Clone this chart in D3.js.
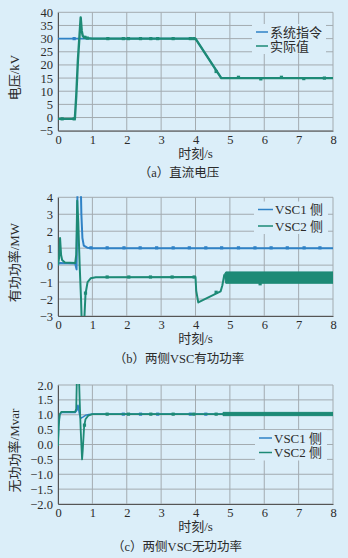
<!DOCTYPE html>
<html>
<head>
<meta charset="utf-8">
<script src="https://cdn.jsdelivr.net/npm/d3@7"></script>
<style>
  html, body { margin: 0; padding: 0; background: #dbeef9; }
  svg { display: block; }
  text { font-family: "Liberation Serif", "Noto Sans CJK SC", serif; fill: #2b2b2b; }
</style>
</head>
<body>
<div id="chart-area"></div>
<script>
// ---- data ----
var timeTicks = [0, 1, 2, 3, 4, 5, 6, 7, 8];

// (a) DC voltage
var aTicks = [-5, 0, 5, 10, 15, 20, 25, 30, 35, 40];
var aCmdT = [0, 4.0, 4.75, 8];
var aCmdV = [30, 30, 15, 15];
var aActT = [0, 0.49, 0.53, 0.58, 0.62, 0.66, 0.69, 0.72, 0.76, 0.85, 1.0, 4.0, 4.75, 8];
var aActV = [-0.5, -0.5, 8, 22, 30, 38, 33, 31, 30.5, 30.2, 30, 30, 15, 15];
var aCmdMarks = [[0.47, 30]];
var aActMarks = [[0.12, -0.5], [0.47, -0.5], [0.78, 30.5], [0.85, 30.2], [1.45, 30], [1.9, 30], [2.05, 30],
  [2.4, 30], [2.7, 30], [2.9, 30], [3.35, 30], [3.85, 30], [3.95, 30], [4.6, 17.5], [5.25, 15.3],
  [5.9, 14.7], [6.5, 15.3], [7.15, 14.8], [7.75, 15]];

// (b) active power
var bTicks = [-3, -2, -1, 0, 1, 2, 3, 4];
var bV1T = [0, 0.02, 0.06, 0.5, 0.54, 0.57, 0.66, 0.68, 0.71, 0.75, 0.85, 1.0, 8];
var bV1V = [0, 0.1, 0.12, 0.1, -0.25, 5, 5, 3.0, 1.6, 1.15, 1.03, 1.0, 1.0];
var bV2T = [0, 0.03, 0.06, 0.09, 0.12, 0.2, 0.5, 0.53, 0.56, 0.59, 0.63, 0.67, 0.7, 0.74, 0.77,
  0.8, 0.86, 0.95, 1.1, 4.0, 4.02, 4.08, 4.73, 4.78, 4.84];
var bV2V = [0, 0.4, 1.6, 0.6, 0.3, 0.15, 0.12, 0.6, 3.8, 2.5, 0, -2, -4, -4, -3,
  -1.7, -1.0, -0.78, -0.72, -0.7, -1.5, -2.2, -1.55, -1.2, -0.55];
var bBandT = [4.84, 4.88, 8];
var bBandHi = [-0.55, -0.4, -0.4];
var bBandLo = [-0.6, -1.07, -1.07];
var bV1Marks = [[0.96, 1.02], [1.43, 1.02], [1.92, 1.02], [2.39, 1.02], [2.87, 1.02], [3.35, 1.02],
  [3.82, 1.02], [4.3, 1.02], [4.76, 1.02], [5.25, 1.02], [5.73, 1.02], [6.2, 1.02], [6.67, 1.02],
  [7.16, 1.02], [7.62, 1.02]];
var bV2Marks = [[0.8, -1.65], [1.43, -0.7], [2.06, -0.7], [2.69, -0.7], [3.32, -0.7], [3.96, -0.7],
  [4.6, -1.6], [5.88, -1.1]];

// (c) reactive power
var cTicks = [-2.0, -1.5, -1.0, -0.5, 0.0, 0.5, 1.0, 1.5, 2.0];
var cV1T = [0, 0.02, 0.05, 0.1, 0.5, 0.55, 0.58, 0.62, 0.66, 0.72, 0.8, 0.9, 1.0, 8];
var cV1V = [0, 0.7, 1.0, 1.08, 1.08, 1.15, 1.32, 1.05, 0.88, 0.92, 0.98, 1.01, 1.02, 1.02];
var cV2T = [0, 0.02, 0.05, 0.1, 0.5, 0.53, 0.55, 0.61, 0.63, 0.66, 0.7, 0.72, 0.76, 0.8, 0.88, 1.0, 4.8];
var cV2V = [-0.05, 0.6, 1.02, 1.1, 1.1, 1.2, 2.3, 2.3, 1.5, 0.5, -0.5, -0.2, 0.6, 0.85, 0.97, 1.02, 1.02];
var cBandT = [4.8, 8];
var cBandHi = [1.08, 1.08];
var cBandLo = [0.97, 0.97];
var cV1Marks = [[1.9, 1.02], [2.4, 1.02], [2.9, 1.02], [3.85, 1.02], [4.3, 1.02]];
var cV2Marks = [[0.77, 0.65], [1.43, 1.02], [2.05, 1.02], [2.7, 1.02], [3.35, 1.02], [3.95, 1.02], [4.6, 1.02]];

// ---- style ----
var blue = "#2f82c6",
    teal = "#1d8a76",
    gridColor = "#a3abb0";

var W = 348, H = 558;
var left = 58, right = 333;

var svg = d3.select("#chart-area")
    .append("svg")
        .attr("width", W)
        .attr("height", H);

function zip(t, v) {
    return t.map(function(d, i) { return [d, v[i]]; });
}

function drawPanel(p) {
    var x = d3.scaleLinear().domain([0, 8]).range([left, right]);
    var y = d3.scaleLinear().domain(p.domain).range([p.bottom, p.top]);

    var g = svg.append("g");

    // grid
    g.selectAll(".vgrid").data(timeTicks).enter().append("line")
        .attr("x1", function(d) { return x(d); }).attr("x2", function(d) { return x(d); })
        .attr("y1", p.top).attr("y2", p.bottom)
        .attr("stroke", gridColor).attr("stroke-width", 1);
    g.selectAll(".hgrid").data(p.ticks).enter().append("line")
        .attr("x1", left).attr("x2", right)
        .attr("y1", function(d) { return y(d); }).attr("y2", function(d) { return y(d); })
        .attr("stroke", gridColor).attr("stroke-width", 1);

    // legend background hides grid
    g.append("rect")
        .attr("x", p.legX - 4).attr("y", p.legY[0] - 8)
        .attr("width", p.legW).attr("height", p.legY[1] - p.legY[0] + 16)
        .attr("fill", "#dbeef9");

    // axes
    var xAxis = g.append("g")
        .attr("transform", "translate(0," + p.bottom + ")")
        .call(d3.axisBottom(x).tickValues(timeTicks).tickSize(0).tickPadding(4));
    var yAxis = g.append("g")
        .attr("transform", "translate(" + left + ",0)")
        .call(d3.axisLeft(y).tickValues(p.ticks).tickSize(0).tickPadding(5).tickFormat(p.fmt));
    [xAxis, yAxis].forEach(function(a) {
        a.attr("font-family", null).attr("font-size", null);
        a.select(".domain").attr("stroke", "#555").attr("stroke-width", 1);
        a.selectAll("text").attr("font-size", "12.5px").attr("fill", "#2b2b2b");
    });

    // clip
    var clipId = "clip" + p.id;
    svg.append("clipPath").attr("id", clipId)
        .append("rect").attr("x", left).attr("y", p.top - 1)
        .attr("width", right - left).attr("height", p.bottom - p.top + 1);

    var plot = g.append("g").attr("clip-path", "url(#" + clipId + ")");
    var line = d3.line().x(function(d) { return x(d[0]); }).y(function(d) { return y(d[1]); });
    var area = d3.area()
        .x(function(d) { return x(d[0]); })
        .y0(function(d) { return y(d[2]); })
        .y1(function(d) { return y(d[1]); });

    p.series.forEach(function(s) {
        plot.append("path")
            .datum(zip(s.t, s.v))
            .attr("fill", "none")
            .attr("stroke", s.color)
            .attr("stroke-width", s.width)
            .attr("stroke-linejoin", "round")
            .attr("d", line);
        if (s.band) {
            var bd = s.band.t.map(function(d, i) { return [d, s.band.hi[i], s.band.lo[i]]; });
            plot.append("path").datum(bd)
                .attr("fill", s.color).attr("stroke", s.color).attr("stroke-width", 1)
                .attr("d", area);
        }
        plot.selectAll(null).data(s.marks).enter().append("rect")
            .attr("x", function(d) { return x(d[0]) - 1.6; })
            .attr("y", function(d) { return y(d[1]) - 1.6; })
            .attr("width", 3.2).attr("height", 3.2)
            .attr("fill", s.color);
    });

    // legend
    p.series.forEach(function(s, i) {
        var ly = p.legY[i];
        g.append("line")
            .attr("x1", p.legX).attr("x2", p.legX + p.legLine)
            .attr("y1", ly).attr("y2", ly)
            .attr("stroke", s.color).attr("stroke-width", 1.5);
        g.append("text")
            .attr("x", p.legX + p.legLine + 2).attr("y", ly + 4.5)
            .attr("font-size", "13px")
            .text(s.name);
    });

    // X Label
    g.append("text")
        .attr("x", (left + right) / 2).attr("y", p.bottom + 27)
        .attr("text-anchor", "middle").attr("font-size", "13px")
        .text("时刻/s");

    // Y Label
    var cy = (p.top + p.bottom) / 2 + 6;
    g.append("text")
        .attr("transform", "translate(19," + cy + ") rotate(-90)")
        .attr("text-anchor", "middle").attr("font-size", "13px")
        .text(p.ylabel);

    // caption
    g.append("text")
        .attr("x", p.capX).attr("y", p.bottom + 46.5)
        .attr("text-anchor", "middle").attr("font-size", "12.5px")
        .text(p.caption);
}

drawPanel({
    id: "a", top: 12.3, bottom: 130.7, domain: [-5, 40], ticks: aTicks,
    fmt: d3.format("d"), ylabel: "电压/kV", caption: "（a）直流电压", capX: 179,
    legX: 256, legLine: 12, legY: [32, 46], legW: 74,
    series: [
        { name: "系统指令", t: aCmdT, v: aCmdV, color: blue, width: 1.6, marks: aCmdMarks },
        { name: "实际值", t: aActT, v: aActV, color: teal, width: 2.4, marks: aActMarks }
    ]
});

drawPanel({
    id: "b", top: 197.3, bottom: 316, domain: [-3, 4], ticks: bTicks,
    fmt: d3.format("d"), ylabel: "有功功率/MW", caption: "（b）两侧VSC有功功率", capX: 179,
    legX: 258, legLine: 15, legY: [209.5, 226], legW: 74,
    series: [
        { name: "VSC1 侧", t: bV1T, v: bV1V, color: blue, width: 2, marks: bV1Marks },
        { name: "VSC2 侧", t: bV2T, v: bV2V, color: teal, width: 2,
          band: { t: bBandT, hi: bBandHi, lo: bBandLo }, marks: bV2Marks }
    ]
});

drawPanel({
    id: "c", top: 385, bottom: 504, domain: [-2, 2], ticks: cTicks,
    fmt: d3.format(".1f"), ylabel: "无功功率/Mvar", caption: "（c）两侧VSC无功功率", capX: 177,
    legX: 259, legLine: 13, legY: [438, 452.5], legW: 72,
    series: [
        { name: "VSC1 侧", t: cV1T, v: cV1V, color: blue, width: 1.6, marks: cV1Marks },
        { name: "VSC2 侧", t: cV2T, v: cV2V, color: teal, width: 1.8,
          band: { t: cBandT, hi: cBandHi, lo: cBandLo }, marks: cV2Marks }
    ]
});
</script>
</body>
</html>
